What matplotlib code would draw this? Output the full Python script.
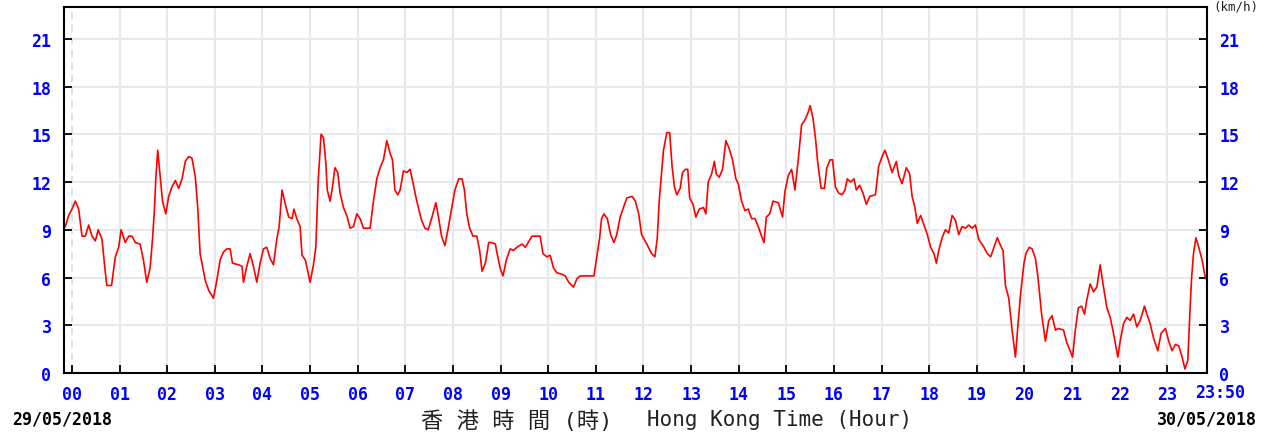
import matplotlib
matplotlib.use("Agg")
import numpy as np
import matplotlib.pyplot as plt

# wind speed (km/h), time in hours since 00:00 29/05
hours = [
    -0.14, -0.07, 0.00, 0.07, 0.14, 0.21, 0.28, 0.35, 0.42, 0.49, 0.55, 0.63, 0.69, 0.73, 0.83,
    0.91, 0.98, 1.03, 1.12, 1.19, 1.26, 1.33, 1.43, 1.50, 1.57, 1.64, 1.69, 1.73, 1.76, 1.80,
    1.85, 1.90, 1.97, 2.03, 2.10, 2.17, 2.24, 2.31, 2.38, 2.45, 2.52, 2.59, 2.64, 2.69, 2.80,
    2.87, 2.97, 3.04, 3.11, 3.18, 3.25, 3.32, 3.37, 3.50, 3.57, 3.60, 3.67, 3.74, 3.81, 3.88,
    3.95, 4.02, 4.09, 4.16, 4.23, 4.30, 4.35, 4.41, 4.48, 4.55, 4.62, 4.66, 4.72, 4.79, 4.83,
    4.90, 5.00, 5.07, 5.12, 5.17, 5.23, 5.28, 5.33, 5.36, 5.42, 5.47, 5.52, 5.58, 5.63, 5.70,
    5.77, 5.84, 5.91, 5.98, 6.05, 6.12, 6.26, 6.33, 6.40, 6.47, 6.54, 6.61, 6.68, 6.73, 6.78,
    6.84, 6.89, 6.96, 7.03, 7.10, 7.17, 7.24, 7.34, 7.41, 7.48, 7.55, 7.64, 7.69, 7.76, 7.83,
    7.90, 7.97, 8.04, 8.12, 8.19, 8.24, 8.29, 8.35, 8.42, 8.50, 8.56, 8.61, 8.68, 8.75, 8.82,
    8.89, 8.94, 8.99, 9.05, 9.12, 9.20, 9.27, 9.34, 9.45, 9.52, 9.58, 9.66, 9.83, 9.89, 9.97,
    10.04, 10.11, 10.18, 10.29, 10.36, 10.43, 10.53, 10.60, 10.67, 10.81, 10.96, 11.02, 11.08, 11.12, 11.17,
    11.24, 11.31, 11.38, 11.44, 11.51, 11.58, 11.65, 11.76, 11.83, 11.90, 11.96, 12.07, 12.17, 12.24, 12.29,
    12.33, 12.37, 12.42, 12.49, 12.55, 12.60, 12.65, 12.70, 12.77, 12.82, 12.88, 12.93, 12.97, 13.04, 13.10,
    13.17, 13.26, 13.31, 13.36, 13.43, 13.49, 13.53, 13.59, 13.66, 13.73, 13.80, 13.87, 13.94, 13.99, 14.06,
    14.13, 14.20, 14.27, 14.34, 14.41, 14.48, 14.53, 14.58, 14.65, 14.72, 14.83, 14.92, 14.97, 15.04, 15.11,
    15.18, 15.25, 15.32, 15.39, 15.46, 15.50, 15.56, 15.61, 15.66, 15.73, 15.80, 15.85, 15.92, 15.97, 16.03,
    16.10, 16.17, 16.23, 16.28, 16.35, 16.42, 16.47, 16.54, 16.61, 16.68, 16.75, 16.87, 16.94, 17.01, 17.07,
    17.14, 17.22, 17.31, 17.36, 17.43, 17.52, 17.59, 17.64, 17.70, 17.75, 17.82, 17.89, 17.96, 18.03, 18.10,
    18.15, 18.20, 18.27, 18.34, 18.41, 18.48, 18.55, 18.62, 18.69, 18.76, 18.83, 18.90, 18.97, 19.04, 19.15,
    19.22, 19.29, 19.36, 19.43, 19.50, 19.55, 19.60, 19.67, 19.74, 19.81, 19.86, 19.92, 19.99, 20.03, 20.10,
    20.16, 20.23, 20.28, 20.36, 20.44, 20.51, 20.58, 20.65, 20.71, 20.82, 20.89, 20.96, 21.01, 21.06, 21.13,
    21.20, 21.26, 21.31, 21.38, 21.45, 21.52, 21.59, 21.66, 21.73, 21.80, 21.87, 21.96, 22.01, 22.08, 22.15,
    22.22, 22.29, 22.36, 22.43, 22.52, 22.57, 22.64, 22.71, 22.80, 22.87, 22.96, 23.03, 23.10, 23.17, 23.24,
    23.31, 23.37, 23.43, 23.48, 23.51, 23.55, 23.60, 23.66, 23.73, 23.79, 23.83,
]
speed = [
    9.2, 9.9, 10.3, 10.8, 10.3, 8.6, 8.6, 9.3, 8.6, 8.3, 9.0, 8.4, 6.6, 5.5, 5.5,
    7.3, 7.9, 9.0, 8.2, 8.6, 8.6, 8.2, 8.1, 7.1, 5.7, 6.6, 8.4, 10.2, 12.2, 14.0,
    12.4, 10.8, 10.0, 11.1, 11.7, 12.1, 11.6, 12.2, 13.3, 13.6, 13.5, 12.3, 10.4, 7.5, 5.8,
    5.2, 4.7, 5.8, 7.1, 7.6, 7.8, 7.8, 6.9, 6.8, 6.7, 5.7, 6.7, 7.5, 6.7, 5.7,
    6.9, 7.8, 7.9, 7.2, 6.8, 8.4, 9.2, 11.5, 10.6, 9.8, 9.7, 10.3, 9.7, 9.2, 7.4,
    7.1, 5.7, 6.8, 7.9, 12.1, 15.0, 14.8, 13.2, 11.5, 10.8, 11.7, 12.9, 12.6, 11.3, 10.4,
    9.9, 9.1, 9.2, 10.0, 9.7, 9.1, 9.1, 10.8, 12.2, 12.9, 13.4, 14.6, 13.8, 13.4, 11.5,
    11.2, 11.5, 12.7, 12.6, 12.8, 11.8, 10.8, 9.6, 9.1, 9.0, 9.7, 10.7, 9.9, 8.6, 8.0,
    9.1, 10.3, 11.5, 12.2, 12.2, 11.5, 10.0, 9.1, 8.6, 8.6, 7.7, 6.4, 6.9, 8.2, 8.2,
    8.1, 7.3, 6.6, 6.1, 7.1, 7.8, 7.7, 7.9, 8.1, 7.9, 8.2, 8.6, 8.6, 7.5, 7.3,
    7.4, 6.6, 6.3, 6.2, 6.1, 5.7, 5.4, 5.9, 6.1, 6.1, 6.1, 7.3, 8.5, 9.7, 10.0,
    9.7, 8.7, 8.2, 8.7, 9.8, 10.4, 11.0, 11.1, 10.8, 10.0, 8.7, 8.1, 7.5, 7.3, 8.5,
    10.8, 12.2, 14.0, 15.1, 15.1, 13.0, 11.7, 11.2, 11.6, 12.6, 12.8, 12.8, 11.0, 10.6, 9.8,
    10.3, 10.4, 10.0, 12.0, 12.5, 13.3, 12.5, 12.3, 12.8, 14.6, 14.1, 13.4, 12.2, 11.9, 10.8,
    10.2, 10.3, 9.7, 9.7, 9.2, 8.6, 8.2, 9.8, 10.0, 10.8, 10.7, 9.8, 11.4, 12.4, 12.8,
    11.5, 13.4, 15.6, 15.9, 16.4, 16.8, 16.0, 14.8, 13.2, 11.6, 11.6, 12.9, 13.4, 13.4, 11.7,
    11.3, 11.2, 11.5, 12.2, 12.0, 12.2, 11.5, 11.8, 11.3, 10.6, 11.1, 11.2, 13.0, 13.6, 14.0,
    13.4, 12.6, 13.3, 12.4, 11.9, 12.9, 12.5, 11.1, 10.4, 9.4, 9.9, 9.3, 8.7, 7.9, 7.5,
    6.9, 7.7, 8.5, 9.0, 8.8, 9.9, 9.6, 8.7, 9.2, 9.1, 9.3, 9.1, 9.3, 8.4, 7.9,
    7.5, 7.3, 7.9, 8.5, 8.0, 7.7, 5.5, 4.7, 2.7, 1.0, 2.9, 5.0, 6.9, 7.5, 7.9,
    7.8, 7.2, 6.1, 3.7, 2.0, 3.3, 3.6, 2.7, 2.8, 2.7, 1.9, 1.4, 1.0, 2.5, 4.1,
    4.2, 3.7, 4.6, 5.6, 5.1, 5.4, 6.8, 5.4, 4.1, 3.5, 2.5, 1.0, 2.0, 3.1, 3.5,
    3.3, 3.7, 2.9, 3.3, 4.2, 3.7, 3.1, 2.2, 1.4, 2.5, 2.8, 2.0, 1.4, 1.8, 1.7,
    1.0, 0.25, 0.8, 4.2, 6.0, 7.5, 8.5, 7.9, 7.1, 6.1, 5.8,
]
hour_labels = ["%02d" % h for h in range(24)]
y_ticks = [0, 3, 6, 9, 12, 15, 18, 21]

blue = "#0000ff"
mono = "DejaVu Sans Mono"

fig = plt.figure(figsize=(12.67, 4.35), dpi=100)
ax = fig.add_axes([64 / 1267, 1 - 374 / 435, (1207 - 64) / 1267, (374 - 8) / 435])

# grid
for h in range(1, 24):
    ax.axvline(h, color="#e8e8e8", lw=1.5, zorder=0)
ax.axvline(0, color="#dcdcdc", lw=1.3, ls=(0, (4, 3)), zorder=0)
for v in y_ticks[1:]:
    ax.axhline(v, color="#e8e8e8", lw=1.5, zorder=0)

ax.plot(hours, speed, color="#ff0000", lw=1.2, zorder=2)

ax.set_xlim(-0.168, 23.833)
ax.set_ylim(0, 23.0)

ax.set_xticks(range(24))
ax.set_xticklabels(hour_labels)
ax.set_yticks(y_ticks)
ax.tick_params(axis="x", direction="in", length=6, width=1.3, pad=9,
               labelsize=12, labelcolor=blue)
ax.tick_params(axis="y", direction="in", length=6, width=1.3, pad=9,
               labelsize=12, labelcolor=blue, right=True, labelright=True)
for t in ax.xaxis.get_major_ticks():
    t.label1.set_fontfamily(mono)
    t.label1.set_fontweight("bold")
for t in ax.yaxis.get_major_ticks():
    for lab in (t.label1, t.label2):
        lab.set_fontfamily(mono)
        lab.set_fontweight("bold")

for s in ax.spines.values():
    s.set_color("black")
    s.set_linewidth(1.5)

fig.text(1195 / 1267, 1 - 393 / 435, "23:50", color=blue, fontsize=12,
         fontfamily=mono, fontweight="bold", ha="left", va="center")
fig.text(12 / 1267, 1 - 420 / 435, "29/05/2018", color="black", fontsize=12,
         fontfamily=mono, fontweight="bold", ha="left", va="center")
fig.text(1257 / 1267, 1 - 420 / 435, "30/05/2018", color="black", fontsize=12,
         fontfamily=mono, fontweight="bold", ha="right", va="center")
fig.text(421 / 1267, 1 - 421 / 435, "香 港 時 間 (時)",
         color="#222222", fontsize=16, family=[mono, "Noto Sans CJK TC"],
         ha="left", va="center")
fig.text(647 / 1267, 1 - 420 / 435, "Hong Kong Time (Hour)",
         color="#222222", fontsize=15, fontfamily=mono,
         ha="left", va="center")
fig.text(1258 / 1267, 1 - 1 / 435, "(km/h)", color="#222222", fontsize=9,
         fontfamily=mono, ha="right", va="top")

fig.savefig("out.png", dpi=100)
